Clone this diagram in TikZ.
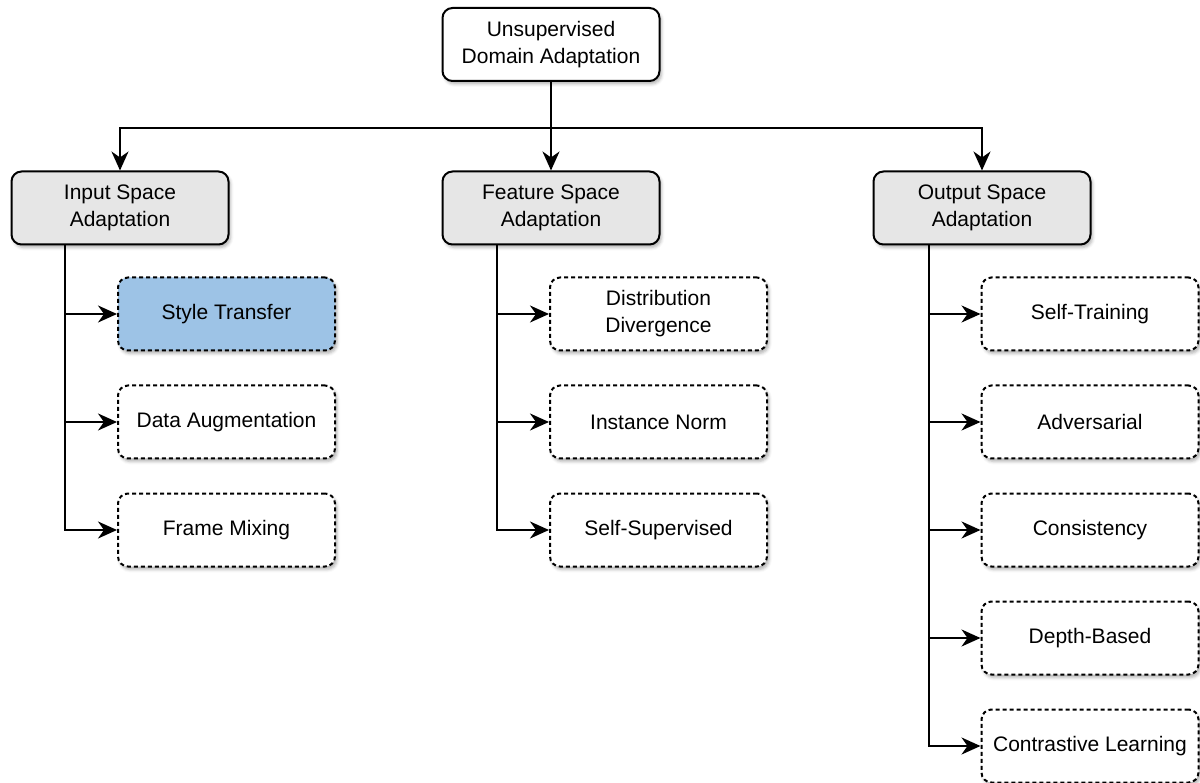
\documentclass[tikz,border=0pt]{standalone}
\usepackage{fontspec}
\setmainfont{Liberation Sans}
\usetikzlibrary{arrows.meta,shadows.blur}
\definecolor{headgray}{HTML}{E6E6E6}
\definecolor{softblue}{HTML}{9DC3E6}
\begin{document}
\begin{tikzpicture}[x=1pt,y=-1pt,
  every node/.style={font=\fontsize{21}{27}\selectfont, align=center, text=black},
  box/.style={draw=black, line width=2pt, rounded corners=10pt,
    minimum width=217pt, minimum height=73pt, inner sep=2pt,
    blur shadow={shadow xshift=2pt, shadow yshift=-3pt, shadow blur radius=3pt, shadow opacity=30}},
  rootbox/.style={box, fill=white},
  headbox/.style={box, fill=headgray},
  leafbox/.style={box, fill=white, dash pattern=on 4pt off 3pt},
  hilite/.style={fill=softblue},
  link/.style={draw=black, line width=2pt},
  arr/.style={link, -{Stealth[length=19pt,width=17pt,inset=6pt]}},
]
\useasboundingbox (0,0) rectangle (1200,783);

% root
\node[rootbox] (root) at (551,44.5) {Unsupervised\\Domain Adaptation};

% three branches
\node[headbox] (inp)  at (120,208) {Input Space\\Adaptation};
\node[headbox] (feat) at (551,208) {Feature Space\\Adaptation};
\node[headbox] (outp) at (982,208) {Output Space\\Adaptation};

% input space leaves
\node[leafbox, hilite] (st) at (226.5,314) {Style Transfer};
\node[leafbox] (da) at (226.5,422) {Data Augmentation};
\node[leafbox] (fm) at (226.5,530) {Frame Mixing};

% feature space leaves
\node[leafbox] (dd) at (658.5,314) {Distribution\\Divergence};
\node[leafbox] (inorm) at (658.5,422) {Instance Norm};
\node[leafbox] (ss) at (658.5,530) {Self-Supervised};

% output space leaves
\node[leafbox] (stt) at (1090,314) {Self-Training};
\node[leafbox] (adv) at (1090,422) {Adversarial};
\node[leafbox] (con) at (1090,530) {Consistency};
\node[leafbox] (dep) at (1090,638) {Depth-Based};
\node[leafbox] (cl)  at (1090,746) {Contrastive Learning};

% root to branches
\coordinate (bus) at (551,128);
\draw[arr] (root) -- (feat);
\draw[arr] (root.south) -- (bus) -| (inp.north);
\draw[arr] (bus) -| (outp.north);

% trunk positions
\coordinate (tin) at (65,0);
\coordinate (tfeat) at (497,0);
\coordinate (tout) at (929,0);

% branch to leaves
\foreach \leaf in {st,da,fm}
  \draw[arr] (inp.south -| tin) |- (\leaf.west);
\foreach \leaf in {dd,inorm,ss}
  \draw[arr] (feat.south -| tfeat) |- (\leaf.west);
\foreach \leaf in {stt,adv,con,dep,cl}
  \draw[arr] (outp.south -| tout) |- (\leaf.west);
\end{tikzpicture}
\end{document}
